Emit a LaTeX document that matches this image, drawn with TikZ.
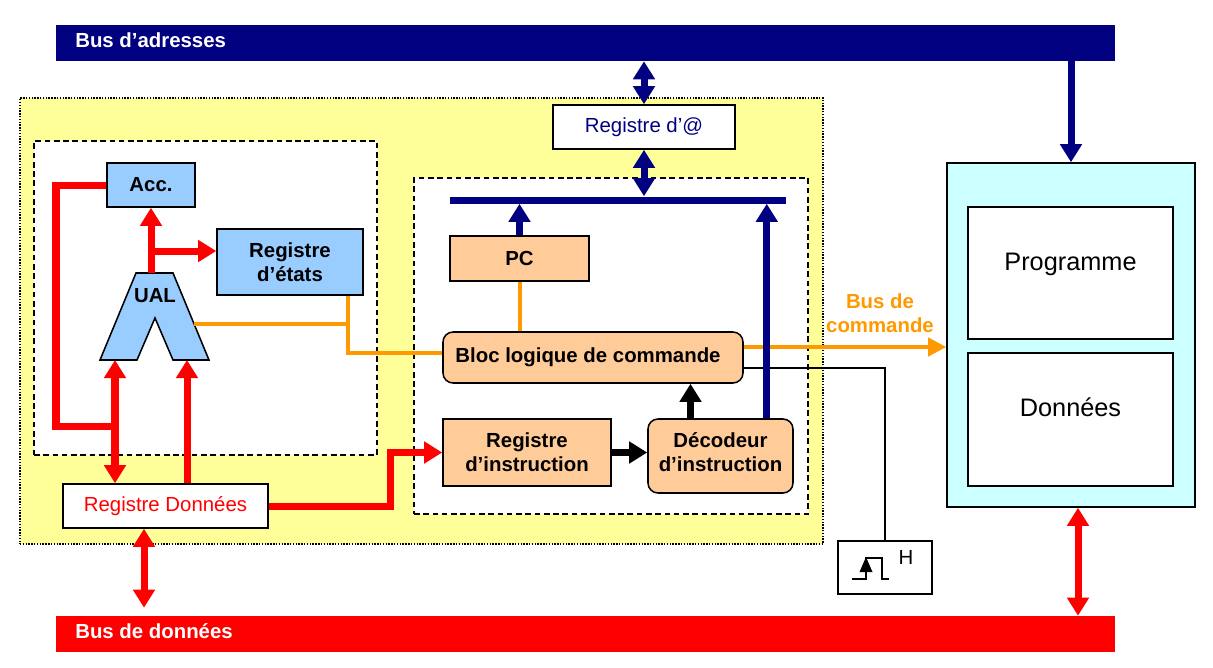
\documentclass[tikz,border=0pt]{standalone}
\usepackage{fontspec}
\setmainfont{Liberation Sans}
\usetikzlibrary{arrows.meta,calc}
\definecolor{navyb}{RGB}{0,0,128}
\definecolor{redb}{RGB}{255,0,0}
\definecolor{orangeb}{RGB}{255,153,0}
\definecolor{blueb}{RGB}{153,204,255}
\definecolor{peach}{RGB}{255,204,153}
\definecolor{yellowb}{RGB}{255,255,153}
\definecolor{cyanb}{RGB}{204,255,255}
\newcommand\pxu{0.025cm}
\newcommand\lblfont{\fontsize{14.5}{17}\selectfont}
\tikzset{Hd/.tip={Triangle[width=0.525cm,length=0.45cm]}}
\begin{document}
\begin{tikzpicture}[x=0.025cm,y=-0.025cm,
 bx/.style={draw=black,line width=1.1pt,inner sep=0pt,align=center,font=\lblfont\bfseries},
 wbx/.style={draw=black,line width=1.1pt,inner sep=0pt,align=center,fill=white,font=\lblfont},
 dbox/.style={draw=black,line width=1.1pt,dash pattern=on 4pt off 2.6pt,fill=white,inner sep=0pt},
 redarr/.style={draw=redb,line width=0.175cm,-Hd},
 redarr2/.style={draw=redb,line width=0.175cm,Hd-Hd},
 redline/.style={draw=redb,line width=0.175cm},
 navyarr/.style={draw=navyb,line width=0.175cm,-Hd},
 navyarr2/.style={draw=navyb,line width=0.175cm,Hd-Hd},
 blkarr/.style={draw=black,line width=0.18cm,-Hd},
 orline/.style={draw=orangeb,line width=0.1cm},
 orarr/.style={draw=orangeb,line width=0.1cm,-{Triangle[width=0.45cm,length=0.45cm]}},
 buslbl/.style={font=\lblfont\bfseries,text=white,anchor=base west,inner sep=0pt}
]
\useasboundingbox (0,0) rectangle (1213,667);
% background regions
\node[draw=black,line width=0.8pt,dash pattern=on 1pt off 1pt,fill=yellowb,inner sep=0pt,minimum width=803*\pxu,minimum height=446*\pxu] (cpu) at (421.5,321) {};
\node[dbox,minimum width=343*\pxu,minimum height=314*\pxu] (alu) at (205.5,298) {};
\node[dbox,minimum width=394*\pxu,minimum height=336*\pxu] (ctl) at (611,346) {};
% buses
\node[fill=navyb,inner sep=0pt,minimum width=1059*\pxu,minimum height=36*\pxu] (busA) at (585.5,43) {};
\node[fill=redb,inner sep=0pt,minimum width=1059*\pxu,minimum height=36*\pxu] (busD) at (585.5,634) {};
\node[buslbl] (busAl) at (75,47) {Bus d’adresses};
\node[buslbl] (busDl) at (75,638) {Bus de données};
% memory
\node[fill=cyanb,draw=black,line width=1.1pt,inner sep=0pt,minimum width=248*\pxu,minimum height=344*\pxu] (mem) at (1071,335) {};
\node[wbx,minimum width=205*\pxu,minimum height=132*\pxu] (prog) at (1070.5,273) {};
\node[font=\fontsize{18}{22}\selectfont,anchor=base,inner sep=0pt] (progl) at (1070.5,270) {Programme};
\node[wbx,minimum width=205*\pxu,minimum height=133*\pxu] (don) at (1070.5,419.5) {};
\node[font=\fontsize{18}{22}\selectfont,anchor=base,inner sep=0pt] (donl) at (1070.5,416) {Données};
% node boxes
\node[bx,fill=blueb,minimum width=88*\pxu,minimum height=44*\pxu] (acc) at (151,185) {Acc.};
\node[bx,fill=blueb,minimum width=146*\pxu,minimum height=66*\pxu] (etat) at (290,262) {Registre\\d’états};
\node[wbx,text=redb,minimum width=205*\pxu,minimum height=44*\pxu] (rdon) at (165.5,506) {Registre Données};
\node[wbx,text=navyb,minimum width=182*\pxu,minimum height=44*\pxu] (radr) at (644,127) {Registre d’@};
\node[bx,fill=peach,minimum width=139*\pxu,minimum height=45*\pxu] (pc) at (519.5,258.5) {PC};
\node[bx,fill=peach,rounded corners=0.25cm,minimum width=300*\pxu,minimum height=51*\pxu] (bloc) at (593,357.5) {Bloc logique de commande\hspace*{0.25cm}};
\node[bx,fill=peach,minimum width=168*\pxu,minimum height=67*\pxu] (rins) at (527,452.5) {Registre\\d’instruction};
\node[bx,fill=peach,rounded corners=0.25cm,minimum width=145*\pxu,minimum height=74*\pxu] (dec) at (720.5,456) {Décodeur\\d’instruction\\[-11.5pt]};
\node[wbx,minimum width=94*\pxu,minimum height=53*\pxu] (hbox) at (885,567.5) {};
\node[font=\lblfont,inner sep=0pt] (hl) at (906,557) {H};
\node[fill=navyb,inner sep=0pt,minimum width=336*\pxu,minimum height=7*\pxu] (ibus) at (618,200) {};
% UAL shape
\draw[fill=blueb,line width=1.1pt] (136,273) -- (173,273) -- (209,360) -- (173,360) -- (155,318) -- (137,360) -- (100,360) -- cycle;
\node[font=\lblfont\bfseries,inner sep=0pt] (ual) at (155,296) {UAL};
\coordinate (ualT) at (151,273);
\coordinate (ualA) at (115,360);
\coordinate (ualB) at (187,360);
\coordinate (ualR) at (194,324);
% clock symbol
\draw[line width=1.1pt] (852,579) -- (866,579) -- (866,558) -- (882,558) -- (882,579) -- (889,579);
\fill (866,557) -- (859.5,572) -- (872.5,572) -- cycle;
% orange and thin black connectors
\coordinate (ej) at ($(etat.south east)+(-16,0)$);
\draw[orline] (ualR) -- (ualR -| ej);
\draw[orline] (ej) |- ($(bloc.west)+(0,-4.5)$);
\draw[orline] (pc.south) -- (pc.south |- bloc.north);
\draw[orarr] ($(bloc.east)+(0,-10.5)$) coordinate (bc) -- (bc -| mem.west);
\node[font=\lblfont\bfseries,text=orangeb,align=center,inner sep=0pt] (bcl) at (880,313) {Bus de\\commande};
\draw[line width=1.1pt] ($(bloc.east)+(0,10.5)$) -| (hbox.north);
% navy connectors
\draw[navyarr2] (radr.north |- busA.south) -- (radr.north);
\draw[navyarr2] (radr.south) -- (radr.south |- ibus.north);
\draw[navyarr] (pc.north) -- (pc.north |- ibus.south);
\draw[navyarr] ($(dec.north east)+(-27,0)$) coordinate (dn) -- (dn |- ibus.south);
\draw[navyarr] (mem.north |- busA.south) -- (mem.north);
% black connectors
\draw[blkarr] (rins.east) -- (rins.east -| dec.west);
\draw[blkarr] ($(dec.north)+(-30,0)$) coordinate (dd) -- (dd |- bloc.south);
% red connectors
\draw[redarr] (ualT) -- (ualT |- acc.south);
\coordinate (br) at ($(etat.west)+(0,-11)$);
\draw[redarr] (br -| ualT) -- (br);
\coordinate (j1) at (115,426);
\draw[redline] (acc.west) -| ($(j1)+(-59,0)$) -- (j1);
\draw[redarr2] (ualA) -- (ualA |- rdon.north);
\draw[redarr] (ualB |- rdon.north) -- (ualB);
\draw[redarr] (rdon.east) -| ($(rins.west)+(-52,0)$) -- (rins.west);
\draw[redarr2] ($(rdon.south)+(-21.5,0)$) coordinate (rs) -- ($(rs |- busD.north)+(0,-8)$);
\draw[redarr2] ($(mem.south)+(7,0)$) coordinate (ms) -- (ms |- busD.north);
\end{tikzpicture}
\end{document}
